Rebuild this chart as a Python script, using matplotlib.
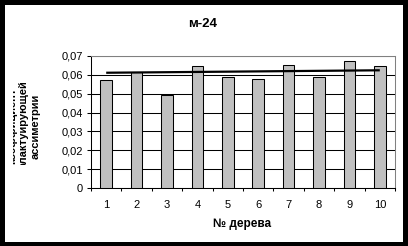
import matplotlib
matplotlib.use("Agg")
import matplotlib.pyplot as plt
from matplotlib.patches import Rectangle
from matplotlib.transforms import Bbox
import numpy as np

plt.rcParams['font.family'] = ['Liberation Sans', 'DejaVu Sans']

# ---- data ----
trees = [1, 2, 3, 4, 5, 6, 7, 8, 9, 10]
values = [0.057, 0.0615, 0.049, 0.0645, 0.059, 0.0576, 0.065, 0.059, 0.067, 0.0645]
trend_x = [1, 10]
trend_y = [0.0610, 0.0623]
yticks = [0, 0.01, 0.02, 0.03, 0.04, 0.05, 0.06, 0.07]
ytick_labels = ['0', '0,01', '0,02', '0,03', '0,04', '0,05', '0,06', '0,07']
title = 'м-24'
xlabel = '№ дерева'
ylabel = 'коэффициент\nфлактуирующей\nассиметрии'

W, H = 408, 246
fig = plt.figure(figsize=(W / 100, H / 100), dpi=100)
fig.patch.set_facecolor('white')

L, R, T, B = 91, 395, 55.7, 188.3
ax = fig.add_axes([L / W, 1 - B / H, (R - L) / W, (B - T) / H])
ax.set_facecolor('white')

ax.bar(trees, values, width=0.385, color='#c0c0c0', edgecolor='black',
       linewidth=0.75, zorder=3)
ax.plot(trend_x, trend_y, color='black', linewidth=1.6, zorder=4,
        solid_capstyle='butt')

ax.set_xlim(0.5, 10.5)
ax.set_ylim(0, 0.07)
ax.set_yticks(yticks)
ax.set_yticklabels(ytick_labels)
ax.set_xticks(trees)
ax.set_xticklabels([str(t) for t in trees])
ax.set_xticks(np.arange(0.5, 11, 1), minor=True)

ax.yaxis.grid(True, color='black', linewidth=0.75, zorder=1)
ax.set_axisbelow(True)

for s in ['top', 'right']:
    ax.spines[s].set_color('#808080')
    ax.spines[s].set_linewidth(0.75)
for s in ['left', 'bottom']:
    ax.spines[s].set_color('black')
    ax.spines[s].set_linewidth(0.75)

ax.tick_params(axis='y', direction='out', length=3, width=0.75, pad=3,
               labelsize=8, colors='black')
ax.tick_params(axis='x', which='major', length=0, pad=8.5, labelsize=8)
ax.tick_params(axis='x', which='minor', direction='out', length=2.5, width=0.75)

fig.text(202.5 / W, 1 - 24 / H, title, ha='center', va='center',
         fontsize=9.5, fontweight='bold')
fig.text(242.5 / W, 1 - 224 / H, xlabel, ha='center', va='center',
         fontsize=8.5, fontweight='bold')
yl = fig.text(24 / W, 1 - 126 / H, ylabel, ha='center', va='center',
              rotation=90, fontsize=8, fontweight='bold',
              multialignment='center', linespacing=1.2)
yl.set_clip_on(True)
yl.set_clip_box(Bbox([[12.5, H - 165], [88, H - 5]]))

# black outer frame
for (x0, y0, w, h) in [(0, 0, 5, H), (W - 5, 0, 5, H), (0, 0, W, 4), (0, H - 5, W, 5)]:
    fig.patches.append(Rectangle((x0 / W, y0 / H), w / W, h / H,
                                 transform=fig.transFigure, facecolor='black',
                                 edgecolor='none', zorder=10))

fig.savefig('out.png', dpi=100, facecolor='white')
